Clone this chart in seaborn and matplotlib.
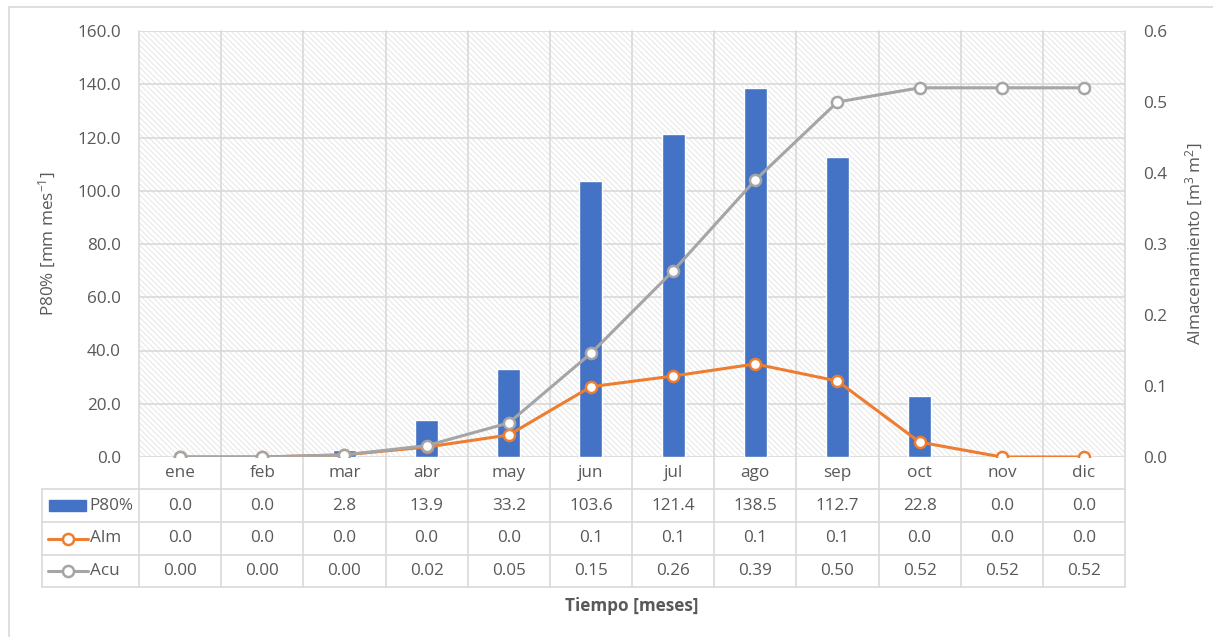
import matplotlib
matplotlib.use("Agg")
import matplotlib.pyplot as plt
from matplotlib.patches import Rectangle
from matplotlib.lines import Line2D
import seaborn as sns
import numpy as np
import pandas as pd

# --- data -------------------------------------------------------------
months = ["ene", "feb", "mar", "abr", "may", "jun", "jul", "ago", "sep", "oct", "nov", "dic"]
p80 = [0.0, 0.0, 2.8, 13.9, 33.2, 103.6, 121.4, 138.5, 112.7, 22.8, 0.0, 0.0]
alm = [0.0, 0.0, 0.003, 0.014, 0.031, 0.099, 0.114, 0.131, 0.107, 0.021, 0.0, 0.0]
acu = [0.0, 0.0, 0.003, 0.016, 0.048, 0.146, 0.262, 0.390, 0.500, 0.520, 0.520, 0.520]
left_ticks = [0, 20, 40, 60, 80, 100, 120, 140, 160]
right_ticks = [0.0, 0.1, 0.2, 0.3, 0.4, 0.5, 0.6]

BLUE = "#4472C4"
ORANGE = "#ED7D31"
GREY = "#A5A5A5"
TXT = "#595959"
LINE = "#D9D9D9"
FS = 12.3

sns.set_theme(style="white")
plt.rcParams["font.family"] = ["Open Sans", "DejaVu Sans"]
plt.rcParams["mathtext.default"] = "regular"
plt.rcParams["hatch.color"] = "#E6E6E6"
plt.rcParams["hatch.linewidth"] = 0.7

W, H = 1213, 637
fig = plt.figure(figsize=(W / 100, H / 100), dpi=100)

x0, x1, ytop, ybot = 139, 1125, 31, 457
ax = fig.add_axes([x0 / W, 1 - ybot / H, (x1 - x0) / W, (ybot - ytop) / H])

df = pd.DataFrame({"mes": months, "p80": p80, "alm": alm, "acu": acu})
pos = np.arange(len(months))

# hatched plot area
ax.add_patch(Rectangle((0, 0), 1, 1, transform=ax.transAxes, facecolor="white",
                       edgecolor="#E6E6E6", hatch="\\\\\\\\\\\\", lw=0, zorder=0))

sns.barplot(data=df, x="mes", y="p80", order=months, color=BLUE, width=0.28,
            saturation=1, ax=ax, zorder=3)
ax.set_xlim(-0.5, len(months) - 0.5)
ax.set_ylim(0, 160)
ax.set_yticks(left_ticks)
ax.set_yticklabels([f"{v:.1f}" for v in left_ticks], color=TXT, fontsize=FS)
ax.tick_params(axis="y", length=0, pad=13)
ax.set_xticks([])
ax.set_xlabel("")
ax.set_ylabel("P80% [mm mes$^{-1}$]", color=TXT, fontsize=FS, labelpad=14)
for s in ax.spines.values():
    s.set_visible(False)

# grid
for v in left_ticks:
    ax.axhline(v, color=LINE, lw=1.2, zorder=1)

# storage axis
ax2 = ax.twinx()
ax2.set_ylim(0, 0.6)
sns.lineplot(x=pos, y=df["alm"].values, ax=ax2, color=ORANGE, lw=2.2, marker="o",
             markersize=8, markerfacecolor="white", markeredgecolor=ORANGE,
             markeredgewidth=1.8, zorder=4)
sns.lineplot(x=pos, y=df["acu"].values, ax=ax2, color=GREY, lw=2.2, marker="o",
             markersize=8, markerfacecolor="white", markeredgecolor=GREY,
             markeredgewidth=1.8, zorder=5)
ax2.set_xlim(-0.5, len(months) - 0.5)
ax2.set_yticks(right_ticks)
ax2.set_yticklabels([f"{v:.1f}" for v in right_ticks], color=TXT, fontsize=FS)
ax2.tick_params(axis="y", length=0, pad=13)
ax2.set_ylabel("Almacenamiento [m$^3$ m$^2$]", color=TXT, fontsize=FS, labelpad=12)
for s in ax2.spines.values():
    s.set_visible(False)

# data table beneath the plot
bt = ax.get_xaxis_transform()
rows_px = [457, 489, 522, 555, 587]
rows = [-(r - ybot) / (ybot - ytop) for r in rows_px]
tab_left = (42 - x0) / (x1 - x0) * len(months) - 0.5

for b in np.arange(-0.5, len(months), 1.0):
    ax.add_line(Line2D([b, b], [rows[-1], 1], transform=bt, color=LINE, lw=1.2,
                       clip_on=False, zorder=1))
ax.add_line(Line2D([tab_left, tab_left], [rows[-1], rows[1]], transform=bt,
                   color=LINE, lw=1.2, clip_on=False))
for i, r in enumerate(rows[1:]):
    ax.add_line(Line2D([tab_left, len(months) - 0.5], [r, r], transform=bt,
                       color=LINE, lw=1.2, clip_on=False))

def mid(i):
    return (rows[i] + rows[i + 1]) / 2

for i, m in enumerate(months):
    ax.text(i, mid(0), m, transform=bt, ha="center", va="center", color=TXT, fontsize=FS)
    ax.text(i, mid(1), f"{p80[i]:.1f}", transform=bt, ha="center", va="center", color=TXT, fontsize=FS)
    ax.text(i, mid(2), f"{alm[i]:.1f}", transform=bt, ha="center", va="center", color=TXT, fontsize=FS)
    ax.text(i, mid(3), f"{acu[i]:.2f}", transform=bt, ha="center", va="center", color=TXT, fontsize=FS)

# legend keys in the header column
def fx(px):
    return (px - x0) / (x1 - x0) * len(months) - 0.5

ax.add_patch(Rectangle((fx(49), mid(1) - 0.014), fx(86) - fx(49), 0.028, transform=bt,
                       color=BLUE, clip_on=False))
ax.text(fx(89), mid(1), "P80%", transform=bt, ha="left", va="center", color=TXT, fontsize=FS)
for r, c, lab in [(2, ORANGE, "Alm"), (3, GREY, "Acu")]:
    ax.add_line(Line2D([fx(48), fx(88)], [mid(r), mid(r)], transform=bt, color=c, lw=2.2,
                       clip_on=False))
    ax.add_line(Line2D([fx(68)], [mid(r)], transform=bt, marker="o", markersize=8,
                       markerfacecolor="white", markeredgecolor=c, markeredgewidth=1.8,
                       clip_on=False))
    ax.text(fx(90), mid(r), lab, transform=bt, ha="left", va="center", color=TXT, fontsize=FS)

fig.text((x0 + x1) / 2 / W, 1 - 606 / H, "Tiempo [meses]", ha="center", va="center",
         color=TXT, fontsize=FS, fontweight="bold")

# outer frame
fig.add_artist(Line2D([9 / W, 9 / W], [0, 1 - 7 / H], color="#D9D9D9", lw=1.2))
fig.add_artist(Line2D([9 / W, 1], [1 - 7 / H, 1 - 7 / H], color="#D9D9D9", lw=1.2))

fig.savefig("out.png", dpi=100)
